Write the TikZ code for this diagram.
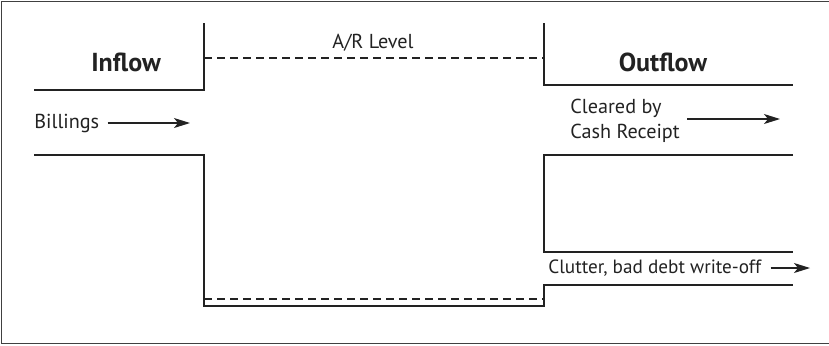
\documentclass[tikz,border=0pt]{standalone}
\usepackage{fontspec}
\setmainfont{PT Sans}
\usetikzlibrary{positioning,arrows.meta}
\definecolor{cLine}{HTML}{222222}
\definecolor{cFrame}{HTML}{404040}
\tikzset{
  wall/.style={draw=cLine,line width=0.65pt},
  level/.style={draw=cLine,line width=0.55pt,dash pattern=on 4pt off 2.5pt},
  frame-line/.style={draw=cFrame,line width=0.8pt},
  flow-arrow/.style={-{Stealth[length=8pt,width=5pt,inset=2pt]},draw=cLine,line width=0.6pt},
  flow-title/.style={font=\bfseries\fontsize{13}{15}\selectfont,text=cLine,inner sep=0pt},
  flow-label/.style={font=\fontsize{10.1}{12.5}\selectfont,text=cLine,inner sep=0pt,align=left},
}
\begin{document}
\begin{tikzpicture}[x=0.5pt,y=-0.5pt]
  \useasboundingbox (0,0) rectangle (829,345);
  % frame (right edge falls outside the page)
  \draw[frame-line] (832,1.5) -| (1.5,343.5) -- (832,343.5);

  % inflow channel
  \draw[wall] (34,90) -| (204,23);
  \draw[wall] (34,155) -| (204,306) -- (544,306) |- (793,285);
  % outflow channels
  \draw[wall] (544,23) |- (793,85);
  \draw[wall] (793,155) -| (544,252) -- (793,252);
  % A/R levels
  \draw[level] (204,58) -- (544,58);
  \draw[level] (204,299) -- (544,299);

  % labels
  \node[flow-title] (inflow)  at (126,62) {Inflow};
  \node[flow-title] (outflow) at (663,62) {Outflow};
  \node[flow-label] (level)   at (373,43) {A/R Level};
  \node[flow-label,anchor=west] (bill) at (34,123) {Billings};
  \node[flow-label,anchor=west] (cash) at (570,120.5) {Cleared by\\Cash Receipt};
  \node[flow-label,anchor=west,font=\fontsize{9.6}{11}\selectfont] (bad) at (548,268) {Clutter, bad debt write-off};

  % flow arrows
  \coordinate (bill-end) at (190,123);
  \coordinate (cash-end) at (780,119);
  \coordinate (bad-end)  at (810,268);
  \draw[flow-arrow] ([xshift=4pt]bill.east) -- (bill-end);
  \draw[flow-arrow] ([xshift=3.5pt]cash.east |- cash-end) -- (cash-end);
  \draw[flow-arrow] ([xshift=4.5pt]bad.east) -- (bad-end);
\end{tikzpicture}
\end{document}
